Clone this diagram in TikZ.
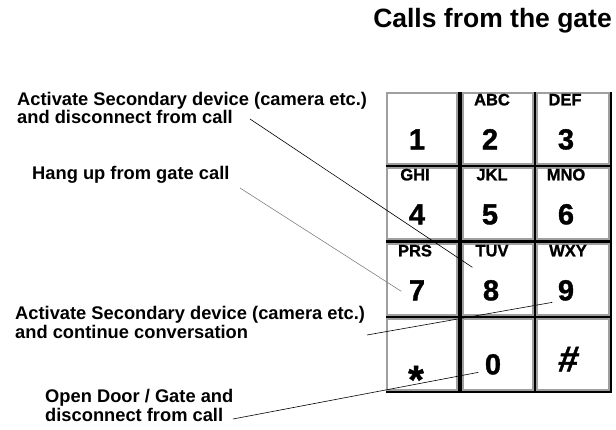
\documentclass[tikz,border=0pt]{standalone}
\usepackage{fontspec}
\setmainfont{Liberation Sans}
\newfontfamily\keyfont{Liberation Sans}[BoldFeatures={FakeBold=1.2}]
\newfontfamily\hashfont{Liberation Sans}[BoldFeatures={FakeBold=1.2,FakeSlant=0.15}]
\usetikzlibrary{calc}

\begin{document}
\begin{tikzpicture}[x=1pt,y=-1pt,
    key/.style={draw=gray!75, line width=1.3pt, fill=white, minimum width=70pt, minimum height=71pt, inner sep=0pt},
    digit/.style={font=\keyfont\bfseries\fontsize{29}{29}\selectfont, inner sep=0pt, anchor=base},
    letters/.style={font=\keyfont\bfseries\fontsize{16.5}{16.5}\selectfont, inner sep=0pt, anchor=base},
    note/.style={font=\bfseries\fontsize{18.3}{17}\selectfont, align=left, inner sep=0pt, anchor=base west},
    leader/.style={line width=0.6pt}]

        \useasboundingbox (0,0) rectangle (616,430);

        %Title
        \node [font=\bfseries\fontsize{26.5}{26.5}\selectfont, inner sep=0pt, anchor=base east] (title) at (612,28) {Calls from the gate};

        %Keypad backing
        \fill (385.5,92) rectangle (612,393);

        %Keys, row 1
        \node [key] (k1) at (422,128.5) {};
        \node [key] (k2) at (498,128.5) {};
        \node [key, minimum width=72pt] (k3) at (573,128.5) {};
        %Keys, row 2
        \node [key] (k4) at (422,203.5) {};
        \node [key] (k5) at (498,203.5) {};
        \node [key, minimum width=72pt] (k6) at (573,203.5) {};
        %Keys, row 3
        \node [key] (k7) at (422,279.5) {};
        \node [key] (k8) at (498,279.5) {};
        \node [key, minimum width=72pt] (k9) at (573,279.5) {};
        %Keys, row 4
        \node [key] (kstar) at (422,354.5) {};
        \node [key] (k0) at (498,354.5) {};
        \node [key, minimum width=72pt] (khash) at (573,354.5) {};

        %Letters
        \node [letters] (abc) at ($(k2.north)+(-6,13)$) {ABC};
        \node [letters] (def) at ($(k3.north)+(-8,13)$) {DEF};
        \node [letters] (ghi) at ($(k4.north)+(-7,13)$) {GHI};
        \node [letters] (jkl) at ($(k5.north)+(-6,13)$) {JKL};
        \node [letters] (mno) at ($(k6.north)+(-7,13)$) {MNO};
        \node [letters] (prs) at ($(k7.north)+(-7,13)$) {PRS};
        \node [letters] (tuv) at ($(k8.north)+(-6,13)$) {TUV};
        \node [letters] (wxy) at ($(k9.north)+(-5,13)$) {WXY};

        %Digits
        \node [digit] (d1) at ($(k1.north)+(-5,57)$) {1};
        \node [digit] (d2) at ($(k2.north)+(-8,57)$) {2};
        \node [digit] (d3) at ($(k3.north)+(-7,57)$) {3};
        \node [digit] (d4) at ($(k4.north)+(-5,57)$) {4};
        \node [digit] (d5) at ($(k5.north)+(-8,57)$) {5};
        \node [digit] (d6) at ($(k6.north)+(-7,57)$) {6};
        \node [digit] (d7) at ($(k7.north)+(-5,57)$) {7};
        \node [digit] (d8) at ($(k8.north)+(-7,57)$) {8};
        \node [digit] (d9) at ($(k9.north)+(-7,57)$) {9};
        \node [digit, font=\keyfont\bfseries\fontsize{40}{40}\selectfont] (dstar) at ($(kstar.north)+(-6,75)$) {*};
        \node [digit] (d0) at ($(k0.north)+(-5,56)$) {0};
        \node [digit, font=\hashfont\bfseries\fontsize{36}{36}\selectfont] (dhash) at ($(khash.north)+(-6,53)$) {\#};

        %Notes on the left (base is the last line)
        \node [note] (nsecond) at (17,124) {Activate Secondary device (camera etc.)\\and disconnect from call};
        \node [note] (nhang) at (32,180) {Hang up from gate call};
        \node [note] (ncont) at (15,338) {Activate Secondary device (camera etc.)\\and continue conversation};
        \node [note] (nopen) at (45,421) {Open Door / Gate and\\disconnect from call};

        %Where the lines end on the keys
        \coordinate (e8) at ($(k8.north west)+(10,24)$);
        \coordinate (e7) at ($(k7.north west)+(15,48)$);
        \coordinate (e9) at ($(k9.north west)+(16,59)$);
        \coordinate (e0) at ($(k0.north west)+(16,54)$);

        %Lines from notes to keys
        \draw [leader] ($(nsecond.base west)+(233,-5)$) -- (e8);
        \draw [leader, gray] ($(nhang.base west)+(208,8)$) -- (e7);
        \draw [leader] ($(ncont.base west)+(352,-3)$) -- (e9);
        \draw [leader] ($(nopen.base west)+(188,-2)$) -- (e0);

    \end{tikzpicture}
\end{document}
